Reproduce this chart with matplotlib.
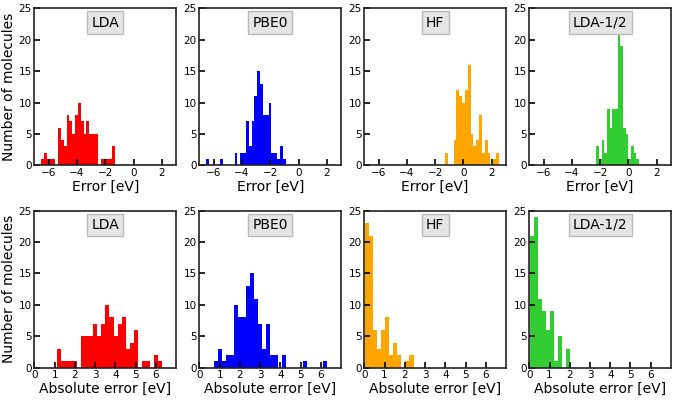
import numpy as np
import matplotlib
matplotlib.use("Agg")
import matplotlib.pyplot as plt

# Methods and colours
methods = ["LDA", "PBE0", "HF", "LDA-1/2"]
colors = ["red", "blue", "orange", "limegreen"]

# Signed errors: histogram range [lo, hi] and counts per bin
err_range = {
    "LDA": (-6.53, -1.33),
    "PBE0": (-6.51, -0.91),
    "HF": (-1.30, 2.50),
    "LDA-1/2": (-2.28, 0.75),
}
err_counts = {
    "LDA": [1, 2, 1, 1, 1, 0, 6, 4, 3, 8, 7, 5, 8, 10, 7, 5, 7, 5, 5, 5, 0, 1, 1, 1, 1, 3],
    "PBE0": [1, 0, 0, 0, 0, 1, 0, 0, 0, 0, 2, 0, 2, 2, 7, 3, 7, 11, 15, 13, 8, 8, 10, 2, 2, 1, 3, 1],
    "HF": [2, 0, 0, 4, 12, 11, 10, 12, 16, 5, 3, 4, 8, 2, 4, 2, 0, 1, 2],
    "LDA-1/2": [3, 1, 4, 2, 9, 6, 9, 9, 21, 19, 6, 5, 1, 3, 2, 1],
}

# Absolute errors
abs_range = {
    "LDA": (1.11, 6.31),
    "PBE0": (0.70, 6.30),
    "HF": (0.03, 2.43),
    "LDA-1/2": (0.03, 2.03),
}
abs_counts = {
    "LDA": [3, 1, 1, 1, 1, 0, 5, 5, 5, 7, 5, 7, 10, 8, 5, 7, 8, 3, 4, 6, 0, 1, 1, 0, 2, 1],
    "PBE0": [1, 3, 1, 2, 2, 10, 8, 8, 13, 15, 11, 7, 3, 7, 2, 2, 0, 2, 0, 0, 0, 0, 1, 0, 0, 0, 0, 1],
    "HF": [23, 21, 6, 3, 6, 8, 2, 4, 2, 0, 1, 2],
    "LDA-1/2": [21, 24, 11, 9, 6, 9, 1, 5, 0, 3],
}


def draw_hist(ax, rng, counts, color):
    edges = np.linspace(rng[0], rng[1], len(counts) + 1)
    centers = 0.5 * (edges[:-1] + edges[1:])
    ax.hist(centers, bins=edges, weights=counts, color=color)


fig, axes = plt.subplots(2, 4, figsize=(6.75, 4.0), dpi=100)
fig.subplots_adjust(left=0.051, right=0.994, top=0.979, bottom=0.081,
                    wspace=0.165, hspace=0.29)

for j, (m, c) in enumerate(zip(methods, colors)):
    for i in range(2):
        ax = axes[i, j]
        if i == 0:
            draw_hist(ax, err_range[m], err_counts[m], c)
            ax.set_xlim(-7, 3)
            ax.set_xticks([-6, -4, -2, 0, 2])
            ax.set_xlabel("Error [eV]", fontsize=10, labelpad=1)
        else:
            draw_hist(ax, abs_range[m], abs_counts[m], c)
            ax.set_xlim(0, 7)
            ax.set_xticks(range(7))
            ax.set_xlabel("Absolute error [eV]", fontsize=10, labelpad=1)
        ax.set_ylim(0, 25)
        ax.set_yticks([0, 5, 10, 15, 20, 25])
        ax.tick_params(direction="in", length=4, width=1.2, labelsize=7.5, pad=2)
        for s in ax.spines.values():
            s.set_linewidth(1.2)
            s.set_color("#222222")
        if j == 0:
            ax.set_ylabel("Number of molecules", fontsize=10, labelpad=2)
        ax.text(0.5, 0.91, m, transform=ax.transAxes, ha="center", va="center",
                fontsize=10,
                bbox=dict(boxstyle="square,pad=0.3", facecolor="#e5e5e5",
                          edgecolor="#bbbbbb"))

fig.savefig("out.png", dpi=100)
